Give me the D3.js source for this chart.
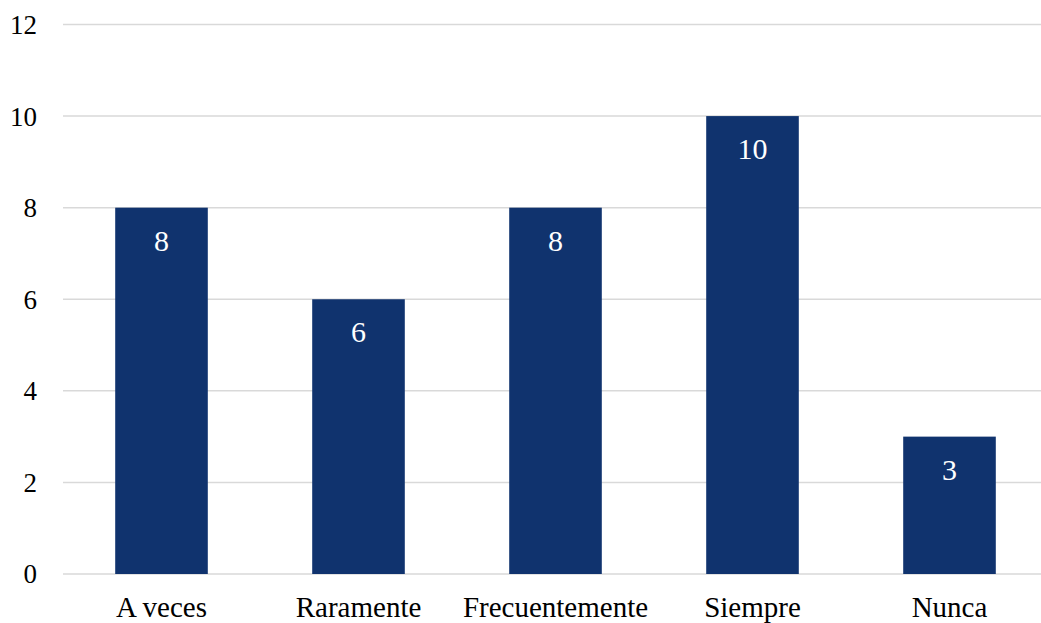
<!DOCTYPE html>
<html>
<head>
<meta charset="utf-8">
<script src="https://cdn.jsdelivr.net/npm/d3@7"></script>
<style>
  html, body { margin: 0; padding: 0; background: #fff; }
  svg { display: block; }
  svg text { font-family: "Liberation Serif", "Times New Roman", Times, serif !important; }
</style>
</head>
<body>
<svg id="chart" width="1041" height="623"></svg>
<script>
const categories = ["A veces", "Raramente", "Frecuentemente", "Siempre", "Nunca"];
const values = [8, 6, 8, 10, 3];
const yTicks = [0, 2, 4, 6, 8, 10, 12];

const svg = d3.select("#chart");
const plotLeft = 63, plotRight = 1048, plotTop = 24.5, plotBottom = 574;

const x = d3.scaleBand()
  .domain(categories)
  .range([plotLeft, plotRight])
  .paddingInner(0.53)
  .paddingOuter(0.265);

const y = d3.scaleLinear().domain([0, 12]).range([plotBottom, plotTop]);

// horizontal gridlines
svg.append("g")
  .selectAll("line")
  .data(yTicks)
  .join("line")
  .attr("x1", plotLeft)
  .attr("x2", 1041)
  .attr("y1", d => y(d))
  .attr("y2", d => y(d))
  .attr("stroke", "#d9d9d9")
  .attr("stroke-width", 1.5);

// y-axis labels
const yAxis = d3.axisLeft(y).tickValues(yTicks).tickSize(0).tickPadding(0);
svg.append("g")
  .attr("transform", "translate(37,0)")
  .call(yAxis)
  .call(g => g.select(".domain").remove())
  .call(g => g.selectAll("text")
    .attr("font-size", 27)
    .attr("fill", "#000")
    .attr("dy", "0.33em"));

// bars
svg.append("g")
  .selectAll("rect")
  .data(values)
  .join("rect")
  .attr("x", (d, i) => x(categories[i]))
  .attr("width", x.bandwidth())
  .attr("y", d => y(d))
  .attr("height", d => plotBottom - y(d))
  .attr("fill", "#10336e");

// value labels inside bars
svg.append("g")
  .selectAll("text")
  .data(values)
  .join("text")
  .attr("x", (d, i) => x(categories[i]) + x.bandwidth() / 2)
  .attr("y", d => y(d) + 43)
  .attr("text-anchor", "middle")
  .attr("font-size", 30)
  .attr("fill", "#fff")
  .text(d => d);

// category labels
const xAxis = d3.axisBottom(x).tickSize(0).tickPadding(0);
svg.append("g")
  .attr("transform", `translate(0,${plotBottom})`)
  .call(xAxis)
  .call(g => g.select(".domain").remove())
  .call(g => g.selectAll("text")
    .attr("font-size", 29)
    .attr("fill", "#000")
    .attr("dy", null)
    .attr("y", 43));
</script>
</body>
</html>
